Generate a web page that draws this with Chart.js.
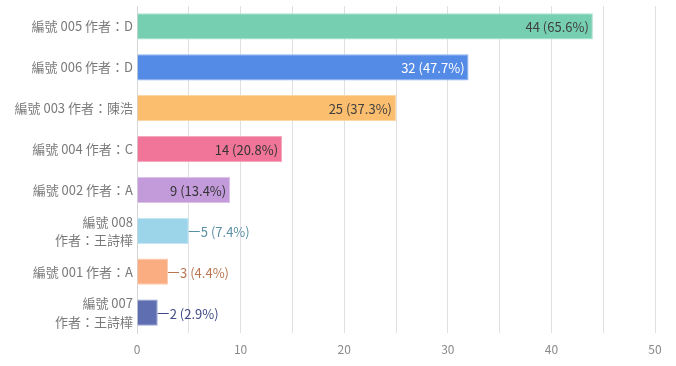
<!DOCTYPE html>
<html lang="zh-Hant">
<head>
    <meta charset="UTF-8">
    <title>編號 作者 統計</title>
    <style>
        html, body { margin: 0; padding: 0; background: #fff; }
        .chart-box { width: 676px; height: 366px; }
    </style>
</head>
<body>

    <div class="chart-box">
        <canvas id="myChart" width="676" height="366"></canvas>
    </div>

    <script src="https://cdn.jsdelivr.net/npm/chart.js@4/dist/chart.umd.min.js"></script>

    <script>
        var labels = [
            '編號 005 作者：D',
            '編號 006 作者：D',
            '編號 003 作者：陳浩',
            '編號 004 作者：C',
            '編號 002 作者：A',
            ['編號 008', '作者：王詩樺'],
            '編號 001 作者：A',
            ['編號 007', '作者：王詩樺']
        ];
        var counts = [44, 32, 25, 14, 9, 5, 3, 2];
        var percents = ['65.6', '47.7', '37.3', '20.8', '13.4', '7.4', '4.4', '2.9'];

        var barColors = ['#76cfb0', '#548be6', '#fbbe6e', '#f07599', '#c39bdb', '#9cd5e9', '#fbad82', '#5f6eb0'];
        var borderColors = ['#a9e2ce', '#8db2ef', '#fdd6a3', '#f6a6be', '#dac2e9', '#c4e6f2', '#fdcdb2', '#97a2cf'];
        var textColors = ['#404040', '#ffffff', '#404040', '#333333', '#333333', '#5b8fa6', '#b97550', '#3f4a87'];

        var fontFamily = '"Noto Sans CJK TC", "Noto Sans", sans-serif';

        // draws "n (p%)" at the end of each bar, outside with a short line when it does not fit
        var valueLabels = {
            id: 'valueLabels',
            afterDatasetsDraw: function (chart) {
                var ctx = chart.ctx;
                var meta = chart.getDatasetMeta(0);
                ctx.save();
                ctx.font = '13px ' + fontFamily;
                ctx.textBaseline = 'middle';
                meta.data.forEach(function (bar, i) {
                    var text = counts[i] + ' (' + percents[i] + '%)';
                    var w = ctx.measureText(text).width;
                    var barW = bar.x - bar.base;
                    ctx.fillStyle = textColors[i];
                    if (w + 8 < barW) {
                        ctx.textAlign = 'right';
                        ctx.fillText(text, bar.x - 4, bar.y + 1);
                    } else {
                        ctx.strokeStyle = textColors[i];
                        ctx.lineWidth = 1;
                        ctx.beginPath();
                        ctx.moveTo(bar.x, Math.round(bar.y) + 0.5);
                        ctx.lineTo(bar.x + 11, Math.round(bar.y) + 0.5);
                        ctx.stroke();
                        ctx.textAlign = 'left';
                        ctx.fillText(text, bar.x + 12, bar.y + 1);
                    }
                });
                ctx.restore();
            }
        };

        var ctx = document.getElementById('myChart').getContext('2d');
        var myChart = new Chart(ctx, {
            type: 'bar',
            data: {
                labels: labels,
                datasets: [{
                    data: counts,
                    backgroundColor: barColors,
                    borderColor: borderColors,
                    borderWidth: 1,
                    barPercentage: 0.8,
                    categoryPercentage: 0.8
                }]
            },
            options: {
                indexAxis: 'y',
                responsive: false,
                animation: false,
                layout: { padding: { top: 6, right: 21 } },
                plugins: {
                    legend: { display: false },
                    tooltip: { enabled: false }
                },
                scales: {
                    x: {
                        min: 0,
                        max: 50,
                        ticks: {
                            stepSize: 5,
                            autoSkip: false,
                            maxRotation: 0,
                            color: '#8a8a8a',
                            font: { family: fontFamily, size: 12 },
                            padding: 9,
                            callback: function (v) { return v % 10 === 0 ? v : ''; }
                        },
                        grid: { color: '#e0e0e0', drawTicks: false },
                        border: { display: false },
                        afterFit: function (scale) {
                            scale.height = 33;
                            scale.paddingLeft = 0;
                            scale.paddingRight = 0;
                        }
                    },
                    y: {
                        ticks: {
                            autoSkip: false,
                            color: '#7a7a7a',
                            font: { family: fontFamily, size: 13, lineHeight: 1.4 },
                            padding: 4
                        },
                        grid: { display: false, drawTicks: false },
                        border: { display: true, color: '#d6d6d6' },
                        afterFit: function (scale) {
                            scale.width = 137;
                            scale.paddingTop = 0;
                            scale.paddingBottom = 0;
                        }
                    }
                }
            },
            plugins: [valueLabels]
        });
    </script>

</body>
</html>
